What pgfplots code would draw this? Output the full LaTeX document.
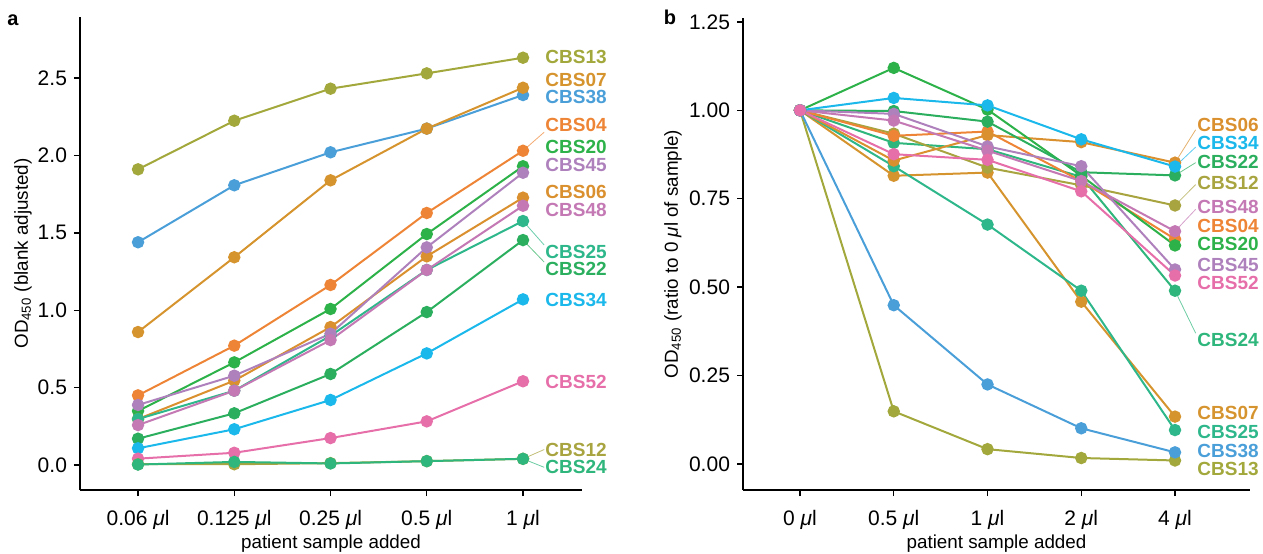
\documentclass[border=0pt]{standalone}
\usepackage{fontspec}
\setmainfont{Liberation Sans}
\usepackage{pgfplots}
\pgfplotsset{compat=1.18}

\definecolor{c13}{HTML}{A2A83B}
\definecolor{c07}{HTML}{D6942F}
\definecolor{c38}{HTML}{4A9FD9}
\definecolor{c04}{HTML}{EE8536}
\definecolor{c20}{HTML}{2DB24A}
\definecolor{c45}{HTML}{AE81BD}
\definecolor{c06}{HTML}{DA902E}
\definecolor{c48}{HTML}{C479B5}
\definecolor{c25}{HTML}{2DB78A}
\definecolor{c22}{HTML}{2BAF5E}
\definecolor{c34}{HTML}{1AB8EB}
\definecolor{c52}{HTML}{E66EA9}
\definecolor{c12}{HTML}{A8A440}
\definecolor{c24}{HTML}{2EB67C}

\newcommand{\ser}[2]{\addplot[color=#1, line width=1pt, mark=*, mark size=2.6pt,
  mark options={solid, fill=#1, draw=#1}] coordinates {#2};}
\newcommand{\lab}[3]{\node[anchor=west, inner sep=0pt, text=#1,
  font=\bfseries\fontsize{9.5}{10}\selectfont] at (axis cs:#2) {#3};}
\newcommand{\con}[3]{\draw[#1!70, line width=0.4pt] (axis cs:#2) -- (axis cs:#3);}

\pgfplotsset{
  panel/.style={
    scale only axis,
    axis x line=bottom, axis y line=left,
    axis line style={-, line width=0.7pt},
    tick align=outside, major tick length=3pt,
    tick style={black, line width=0.7pt},
    xtick={0,1,2,3,4},
    clip=false,
    font=\fontsize{9.4}{11}\selectfont,
    ticklabel style={font=\fontsize{10.5}{12}\selectfont},
    /pgf/number format/assume math mode=true,
    xticklabel style={yshift=-3.5pt},
  }
}

\begin{document}
\begin{tikzpicture}
\path[use as bounding box] (0,0) rectangle (631.5pt,-276.5pt);
\node[font=\bfseries\fontsize{10}{12}\selectfont] at (6.5pt,-10pt) {a};
\node[font=\bfseries\fontsize{10}{12}\selectfont] at (335pt,-8.5pt) {b};

% panel a
\begin{axis}[panel,
  at={(40pt,-245pt)}, anchor=south west,
  width=251pt, height=236.5pt,
  xmin=-0.603, xmax=4.613, ymin=-0.1615, ymax=2.894,
  ytick={0,0.5,1,1.5,2,2.5},
  yticklabel style={/pgf/number format/.cd, fixed, fixed zerofill, precision=1},
  xticklabels={0.06 \textit{μ}l, 0.125 \textit{μ}l, 0.25 \textit{μ}l, 0.5 \textit{μ}l, 1 \textit{μ}l},
  xlabel={patient sample added},
  ylabel={OD\textsubscript{450} (blank adjusted)},
  xlabel style={at={(axis description cs:0.5,-0.114)}, anchor=center},
  ylabel style={at={(axis description cs:-0.1135,0.5)}, anchor=center},
]
\con{c04}{4,2.03}{4.22,2.15}
\con{c25}{4,1.576}{4.22,1.421}
\con{c22}{4,1.453}{4.22,1.311}
\con{c12}{4,0.04}{4.22,0.10}
\con{c24}{4,0.04}{4.22,-0.015}
\ser{c13}{(0,1.910) (1,2.224) (2,2.431) (3,2.530) (4,2.631)}
\ser{c38}{(0,1.439) (1,1.807) (2,2.020) (3,2.173) (4,2.390)}
\ser{c07}{(0,0.859) (1,1.342) (2,1.839) (3,2.173) (4,2.437)}
\ser{c04}{(0,0.450) (1,0.771) (2,1.163) (3,1.628) (4,2.030)}
\ser{c20}{(0,0.349) (1,0.663) (2,1.008) (3,1.492) (4,1.930)}
\ser{c06}{(0,0.297) (1,0.545) (2,0.891) (3,1.348) (4,1.727)}
\ser{c25}{(0,0.297) (1,0.480) (2,0.835) (3,1.260) (4,1.576)}
\ser{c45}{(0,0.388) (1,0.577) (2,0.848) (3,1.406) (4,1.888)}
\ser{c48}{(0,0.258) (1,0.480) (2,0.807) (3,1.260) (4,1.675)}
\ser{c22}{(0,0.170) (1,0.334) (2,0.588) (3,0.988) (4,1.453)}
\ser{c34}{(0,0.108) (1,0.231) (2,0.420) (3,0.721) (4,1.070)}
\ser{c52}{(0,0.041) (1,0.079) (2,0.174) (3,0.282) (4,0.541)}
\ser{c12}{(0,0.005) (1,0.005) (2,0.012) (3,0.025) (4,0.040)}
\ser{c24}{(0,0.003) (1,0.020) (2,0.010) (3,0.025) (4,0.040)}
\lab{c13}{4.229,2.638}{CBS13}
\lab{c07}{4.229,2.487}{CBS07}
\lab{c38}{4.229,2.379}{CBS38}
\lab{c04}{4.229,2.196}{CBS04}
\lab{c20}{4.229,2.056}{CBS20}
\lab{c45}{4.229,1.938}{CBS45}
\lab{c06}{4.229,1.766}{CBS06}
\lab{c48}{4.229,1.647}{CBS48}
\lab{c25}{4.229,1.378}{CBS25}
\lab{c22}{4.229,1.264}{CBS22}
\lab{c34}{4.229,1.066}{CBS34}
\lab{c52}{4.229,0.538}{CBS52}
\lab{c12}{4.229,0.097}{CBS12}
\lab{c24}{4.229,-0.015}{CBS24}
\end{axis}

% panel b
\begin{axis}[panel,
  at={(371.5pt,-245pt)}, anchor=south west,
  width=253.5pt, height=236pt,
  xmin=-0.608, xmax=4.8, ymin=-0.0735, ymax=1.261,
  ytick={0,0.25,0.5,0.75,1,1.25},
  yticklabel style={/pgf/number format/.cd, fixed, fixed zerofill, precision=2},
  xticklabels={0 \textit{μ}l, 0.5 \textit{μ}l, 1 \textit{μ}l, 2 \textit{μ}l, 4 \textit{μ}l},
  xlabel={patient sample added},
  ylabel={OD\textsubscript{450} (ratio to 0 \textit{μ}l of sample)},
  xlabel style={at={(axis description cs:0.5,-0.114)}, anchor=center},
  ylabel style={at={(axis description cs:-0.138,0.5)}, anchor=center},
]
\con{c06}{4,0.852}{4.22,0.945}
\con{c34}{4,0.841}{4.22,0.896}
\con{c22}{4,0.816}{4.22,0.852}
\con{c12}{4,0.731}{4.22,0.790}
\con{c48}{4,0.658}{4.22,0.720}
\con{c24}{4,0.490}{4.22,0.370}
\ser{c13}{(0,1) (1,0.149) (2,0.042) (3,0.017) (4,0.010)}
\ser{c38}{(0,1) (1,0.449) (2,0.225) (3,0.101) (4,0.033)}
\ser{c07}{(0,1) (1,0.815) (2,0.824) (3,0.459) (4,0.134)}
\ser{c25}{(0,1) (1,0.842) (2,0.677) (3,0.490) (4,0.096)}
\ser{c24}{(0,1) (1,0.908) (2,0.890) (3,0.812) (4,0.490)}
\ser{c12}{(0,1) (1,0.934) (2,0.838) (3,0.788) (4,0.731)}
\ser{c04}{(0,1) (1,0.928) (2,0.940) (3,0.800) (4,0.636)}
\ser{c06}{(0,1) (1,0.858) (2,0.930) (3,0.910) (4,0.852)}
\ser{c20}{(0,1) (1,1.120) (2,1.002) (3,0.815) (4,0.618)}
\ser{c22}{(0,1) (1,0.998) (2,0.968) (3,0.825) (4,0.816)}
\ser{c45}{(0,1) (1,0.990) (2,0.898) (3,0.842) (4,0.550)}
\ser{c48}{(0,1) (1,0.971) (2,0.886) (3,0.800) (4,0.658)}
\ser{c34}{(0,1) (1,1.035) (2,1.014) (3,0.918) (4,0.841)}
\ser{c52}{(0,1) (1,0.876) (2,0.860) (3,0.771) (4,0.533)}
\lab{c06}{4.235,0.959}{CBS06}
\lab{c34}{4.235,0.907}{CBS34}
\lab{c22}{4.235,0.855}{CBS22}
\lab{c12}{4.235,0.794}{CBS12}
\lab{c48}{4.235,0.726}{CBS48}
\lab{c04}{4.235,0.673}{CBS04}
\lab{c20}{4.235,0.622}{CBS20}
\lab{c45}{4.235,0.563}{CBS45}
\lab{c52}{4.235,0.513}{CBS52}
\lab{c24}{4.235,0.351}{CBS24}
\lab{c07}{4.235,0.143}{CBS07}
\lab{c25}{4.235,0.091}{CBS25}
\lab{c38}{4.235,0.038}{CBS38}
\lab{c13}{4.235,-0.015}{CBS13}
\end{axis}
\end{tikzpicture}
\end{document}
